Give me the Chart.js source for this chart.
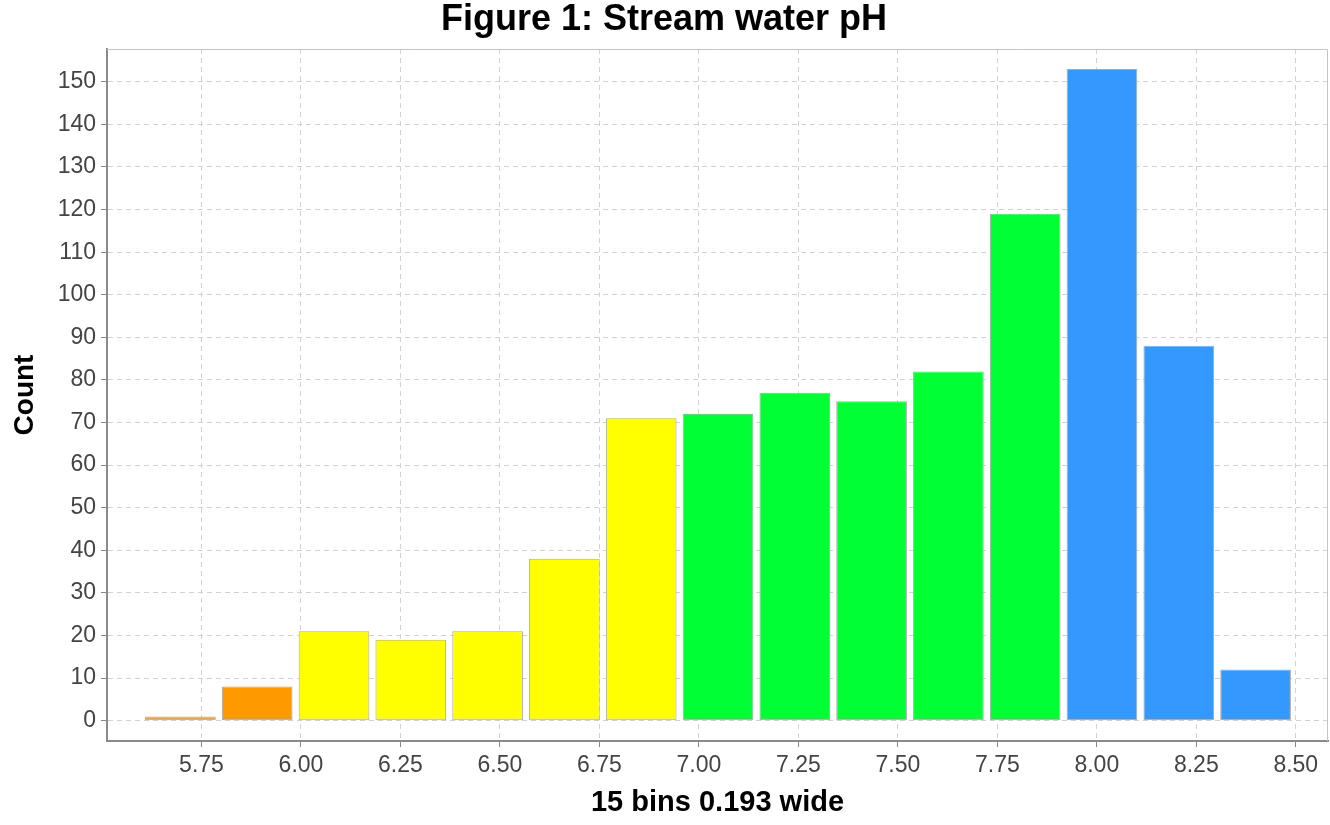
<!DOCTYPE html>
<html>
<head>
<meta charset="utf-8">
<title>Figure 1: Stream water pH</title>
<script src="https://cdn.jsdelivr.net/npm/chart.js@4.4.1/dist/chart.umd.min.js"></script>
<style>
  html, body { margin: 0; padding: 0; background: #fff; }
  #wrap { width: 1330px; height: 825px; position: relative; }
</style>
</head>
<body>
<div id="wrap"><canvas id="chart"></canvas></div>
<script>
// bin centres (15 bins, 0.193 wide) and counts
const binCenters = [5.697, 5.890, 6.083, 6.276, 6.469, 6.662, 6.855, 7.048, 7.241, 7.434, 7.627, 7.820, 8.013, 8.206, 8.399];
const counts = [1, 8, 21, 19, 21, 38, 71, 72, 77, 75, 82, 119, 153, 88, 12];
const barColors = [
  '#f5a030', '#ff9900',
  '#ffff00', '#ffff00', '#ffff00', '#ffff00', '#ffff00',
  '#00ff33', '#00ff33', '#00ff33', '#00ff33', '#00ff33',
  '#3399ff', '#3399ff', '#3399ff',
];
const xTickValues = [5.75, 6.00, 6.25, 6.50, 6.75, 7.00, 7.25, 7.50, 7.75, 8.00, 8.25, 8.50];
const yTickValues = [0, 10, 20, 30, 40, 50, 60, 70, 80, 90, 100, 110, 120, 130, 140, 150];

const FONT = '"Liberation Sans", Arial, Helvetica, sans-serif';

// light outline on the top and right of the plot area
const plotOutline = {
  id: 'plotOutline',
  afterDatasetsDraw(chart) {
    const { ctx, chartArea } = chart;
    ctx.save();
    ctx.strokeStyle = '#c4c4c4';
    ctx.lineWidth = 1;
    ctx.beginPath();
    ctx.moveTo(chartArea.left, chartArea.top + 0.5);
    ctx.lineTo(chartArea.right - 0.5, chartArea.top + 0.5);
    ctx.lineTo(chartArea.right - 0.5, chartArea.bottom);
    ctx.stroke();
    ctx.restore();
  },
};

const gridOpts = {
  color: '#d2d2d2',
  lineWidth: 1,
  offset: false,
  tickLength: 6,
  tickColor: '#888888',
  tickWidth: 1,
};
const borderOpts = {
  color: '#8a8a8a',
  width: 2,
  dash: [5, 4],
};

new Chart(document.getElementById('chart'), {
  type: 'bar',
  data: {
    datasets: [
      {
        data: binCenters.map((x, i) => ({ x, y: counts[i] })),
        backgroundColor: barColors,
        borderColor: '#a8a8a8',
        borderWidth: 1,
        borderSkipped: false,
        categoryPercentage: 1,
        barPercentage: 0.92,
      },
    ],
  },
  options: {
    responsive: true,
    maintainAspectRatio: false,
    animation: false,
    devicePixelRatio: 1,
    layout: { padding: { left: 0, right: 2, top: 0, bottom: 0 } },
    plugins: {
      legend: { display: false },
      tooltip: { enabled: false },
      title: {
        display: true,
        text: 'Figure 1: Stream water pH',
        color: '#000',
        font: { family: FONT, size: 36, weight: 'bold', lineHeight: 1 },
        padding: { top: 2, bottom: 11 },
      },
    },
    scales: {
      x: {
        type: 'linear',
        min: 5.5125,
        max: 8.581,
        offset: false,
        grid: gridOpts,
        border: borderOpts,
        afterBuildTicks(scale) {
          scale.ticks = xTickValues.map((v) => ({ value: v }));
        },
        afterFit(scale) {
          scale.height = 84;
        },
        ticks: {
          color: '#444',
          font: { family: FONT, size: 23 },
          padding: 5,
          maxRotation: 0,
          autoSkip: false,
          callback: (v) => v.toFixed(2),
        },
        title: {
          display: true,
          text: '15 bins 0.193 wide',
          color: '#000',
          font: { family: FONT, size: 29, weight: 'bold' },
          padding: { top: 0, bottom: 5 },
        },
      },
      y: {
        min: -4.77,
        max: 157.7,
        grid: gridOpts,
        border: borderOpts,
        afterBuildTicks(scale) {
          scale.ticks = yTickValues.map((v) => ({ value: v }));
        },
        afterFit(scale) {
          scale.width = 107;
        },
        ticks: {
          color: '#444',
          font: { family: FONT, size: 23 },
          padding: 5,
          autoSkip: false,
        },
        title: {
          display: true,
          text: 'Count',
          color: '#000',
          font: { family: FONT, size: 28, weight: 'bold' },
          padding: { top: 8, bottom: 0 },
        },
      },
    },
  },
  plugins: [plotOutline],
});
</script>
</body>
</html>
